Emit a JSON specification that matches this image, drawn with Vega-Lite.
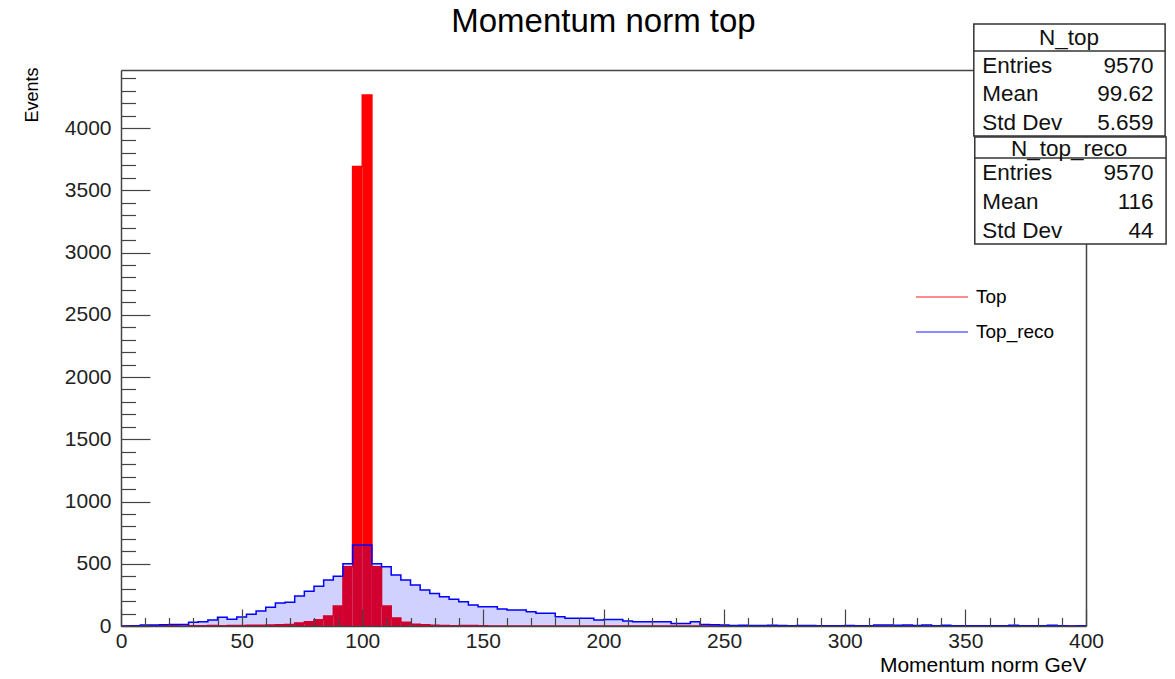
{
  "$schema": "https://vega.github.io/schema/vega-lite/v6.json",
  "width": 965,
  "height": 556,
  "autosize": {"type": "none"},
  "padding": {"left": 121, "top": 70, "right": 89, "bottom": 53},
  "background": "white",
  "title": {"text": "Momentum norm top", "fontSize": 33, "font": "Liberation Sans", "fontWeight": "normal", "color": "#000000", "anchor": "middle", "frame": "group", "baseline": "alphabetic", "offset": -42},
  "config": {
    "view": {"stroke": null},
    "font": "Liberation Sans",
    "axis": {"grid": false},
    "legend": {"orient": "none", "legendX": 807, "legendY": 213, "title": null, "symbolType": "M-2,0H2", "symbolSize": 676, "symbolStrokeWidth": 1.5, "symbolOpacity": 0.6, "labelFontSize": 19, "labelColor": "#000000", "labelFont": "Liberation Sans", "labelOffset": 20, "rowPadding": 11, "padding": 0}
  },
  "datasets": {
    "hist": [
      {"lo": 0, "hi": 4, "top": 0, "reco": 0},
      {"lo": 4, "hi": 8, "top": 0, "reco": 2},
      {"lo": 8, "hi": 12, "top": 0, "reco": 8},
      {"lo": 12, "hi": 16, "top": 3, "reco": 8},
      {"lo": 16, "hi": 20, "top": 2, "reco": 10},
      {"lo": 20, "hi": 24, "top": 2, "reco": 12},
      {"lo": 24, "hi": 28, "top": 0, "reco": 12},
      {"lo": 28, "hi": 32, "top": 3, "reco": 30},
      {"lo": 32, "hi": 36, "top": 2, "reco": 35},
      {"lo": 36, "hi": 40, "top": 4, "reco": 48},
      {"lo": 40, "hi": 44, "top": 3, "reco": 70},
      {"lo": 44, "hi": 48, "top": 5, "reco": 55},
      {"lo": 48, "hi": 52, "top": 4, "reco": 72},
      {"lo": 52, "hi": 56, "top": 6, "reco": 95},
      {"lo": 56, "hi": 60, "top": 6, "reco": 120},
      {"lo": 60, "hi": 64, "top": 8, "reco": 150},
      {"lo": 64, "hi": 68, "top": 10, "reco": 185},
      {"lo": 68, "hi": 72, "top": 12, "reco": 190},
      {"lo": 72, "hi": 76, "top": 25, "reco": 240},
      {"lo": 76, "hi": 80, "top": 35, "reco": 280},
      {"lo": 80, "hi": 84, "top": 50, "reco": 320},
      {"lo": 84, "hi": 88, "top": 80, "reco": 370},
      {"lo": 88, "hi": 92, "top": 160, "reco": 400},
      {"lo": 92, "hi": 96, "top": 475, "reco": 500},
      {"lo": 96, "hi": 100, "top": 3690, "reco": 650},
      {"lo": 100, "hi": 104, "top": 4265, "reco": 650},
      {"lo": 104, "hi": 108, "top": 475, "reco": 500},
      {"lo": 108, "hi": 112, "top": 160, "reco": 476},
      {"lo": 112, "hi": 116, "top": 65, "reco": 410},
      {"lo": 116, "hi": 120, "top": 30, "reco": 370},
      {"lo": 120, "hi": 124, "top": 15, "reco": 330},
      {"lo": 124, "hi": 128, "top": 10, "reco": 290},
      {"lo": 128, "hi": 132, "top": 6, "reco": 262},
      {"lo": 132, "hi": 136, "top": 4, "reco": 235},
      {"lo": 136, "hi": 140, "top": 3, "reco": 214},
      {"lo": 140, "hi": 144, "top": 5, "reco": 195},
      {"lo": 144, "hi": 148, "top": 4, "reco": 169},
      {"lo": 148, "hi": 152, "top": 2, "reco": 155},
      {"lo": 152, "hi": 156, "top": 0, "reco": 155},
      {"lo": 156, "hi": 160, "top": 0, "reco": 137},
      {"lo": 160, "hi": 164, "top": 0, "reco": 128},
      {"lo": 164, "hi": 168, "top": 0, "reco": 128},
      {"lo": 168, "hi": 172, "top": 0, "reco": 115},
      {"lo": 172, "hi": 176, "top": 0, "reco": 102},
      {"lo": 176, "hi": 180, "top": 0, "reco": 102},
      {"lo": 180, "hi": 184, "top": 0, "reco": 75},
      {"lo": 184, "hi": 188, "top": 0, "reco": 62},
      {"lo": 188, "hi": 192, "top": 0, "reco": 62},
      {"lo": 192, "hi": 196, "top": 0, "reco": 62},
      {"lo": 196, "hi": 200, "top": 0, "reco": 48},
      {"lo": 200, "hi": 204, "top": 0, "reco": 53},
      {"lo": 204, "hi": 208, "top": 0, "reco": 53},
      {"lo": 208, "hi": 212, "top": 0, "reco": 40},
      {"lo": 212, "hi": 216, "top": 0, "reco": 35},
      {"lo": 216, "hi": 220, "top": 0, "reco": 35},
      {"lo": 220, "hi": 224, "top": 0, "reco": 35},
      {"lo": 224, "hi": 228, "top": 0, "reco": 35},
      {"lo": 228, "hi": 232, "top": 0, "reco": 21},
      {"lo": 232, "hi": 236, "top": 0, "reco": 21},
      {"lo": 236, "hi": 240, "top": 0, "reco": 35},
      {"lo": 240, "hi": 244, "top": 0, "reco": 12},
      {"lo": 244, "hi": 248, "top": 0, "reco": 10},
      {"lo": 248, "hi": 252, "top": 0, "reco": 8},
      {"lo": 252, "hi": 256, "top": 0, "reco": 5},
      {"lo": 256, "hi": 260, "top": 0, "reco": 6},
      {"lo": 260, "hi": 264, "top": 0, "reco": 5},
      {"lo": 264, "hi": 268, "top": 0, "reco": 4},
      {"lo": 268, "hi": 272, "top": 0, "reco": 6},
      {"lo": 272, "hi": 276, "top": 0, "reco": 4},
      {"lo": 276, "hi": 280, "top": 0, "reco": 3},
      {"lo": 280, "hi": 284, "top": 0, "reco": 5},
      {"lo": 284, "hi": 288, "top": 0, "reco": 4},
      {"lo": 288, "hi": 292, "top": 0, "reco": 3},
      {"lo": 292, "hi": 296, "top": 0, "reco": 3},
      {"lo": 296, "hi": 300, "top": 0, "reco": 2},
      {"lo": 300, "hi": 304, "top": 0, "reco": 4},
      {"lo": 304, "hi": 308, "top": 0, "reco": 3},
      {"lo": 308, "hi": 312, "top": 0, "reco": 2},
      {"lo": 312, "hi": 316, "top": 0, "reco": 8},
      {"lo": 316, "hi": 320, "top": 0, "reco": 8},
      {"lo": 320, "hi": 324, "top": 0, "reco": 7},
      {"lo": 324, "hi": 328, "top": 0, "reco": 8},
      {"lo": 328, "hi": 332, "top": 0, "reco": 5},
      {"lo": 332, "hi": 336, "top": 0, "reco": 8},
      {"lo": 336, "hi": 340, "top": 0, "reco": 3},
      {"lo": 340, "hi": 344, "top": 0, "reco": 7},
      {"lo": 344, "hi": 348, "top": 0, "reco": 3},
      {"lo": 348, "hi": 352, "top": 0, "reco": 2},
      {"lo": 352, "hi": 356, "top": 0, "reco": 3},
      {"lo": 356, "hi": 360, "top": 0, "reco": 2},
      {"lo": 360, "hi": 364, "top": 0, "reco": 2},
      {"lo": 364, "hi": 368, "top": 0, "reco": 3},
      {"lo": 368, "hi": 372, "top": 0, "reco": 7},
      {"lo": 372, "hi": 376, "top": 0, "reco": 2},
      {"lo": 376, "hi": 380, "top": 0, "reco": 2},
      {"lo": 380, "hi": 384, "top": 0, "reco": 2},
      {"lo": 384, "hi": 388, "top": 0, "reco": 6},
      {"lo": 388, "hi": 392, "top": 0, "reco": 2},
      {"lo": 392, "hi": 396, "top": 0, "reco": 1},
      {"lo": 396, "hi": 400, "top": 0, "reco": 2}
    ],
    "boxes": [
      {"name": "N_top", "x1": 353.5, "x2": 432.8, "top": 4835, "bottom": 3936, "sep": 4618, "hy": 4663},
      {"name": "N_top_reco", "x1": 353.9, "x2": 433.2, "top": 3928, "bottom": 3068, "sep": 3759, "hy": 3779}
    ],
    "stats": [
      {"box": "N_top", "label": "Entries", "value": "9570", "y": 4442},
      {"box": "N_top", "label": "Mean", "value": "99.62", "y": 4213},
      {"box": "N_top", "label": "Std Dev", "value": "5.659", "y": 3984},
      {"box": "N_top_reco", "label": "Entries", "value": "9570", "y": 3582},
      {"box": "N_top_reco", "label": "Mean", "value": "116", "y": 3349},
      {"box": "N_top_reco", "label": "Std Dev", "value": "44", "y": 3116}
    ]
  },
  "resolve": {"axis": {"x": "independent", "y": "independent"}},
  "layer": [
    {
      "data": {"name": "hist"},
      "transform": [{"fold": ["lo", "hi"], "as": ["edge", "gev"]}],
      "mark": {"type": "line", "strokeWidth": 1.5, "interpolate": "linear"},
      "encoding": {
        "x": {"field": "gev", "type": "quantitative", "scale": {"domain": [0, 400], "nice": false, "zero": false}, "axis": null},
        "y": {"field": "top", "type": "quantitative", "scale": {"domain": [0, 4466], "nice": false}, "axis": null},
        "color": {"datum": "Top", "type": "nominal", "scale": {"domain": ["Top", "Top_reco"], "range": ["#ff0000", "#0000ff"]}},
        "order": {"value": null}
      }
    },
    {
      "data": {"name": "hist"},
      "mark": {"type": "rect", "color": "#ff0000"},
      "encoding": {
        "x": {"field": "lo", "type": "quantitative", "scale": {"domain": [0, 400], "nice": false, "zero": false},
          "axis": {"orient": "bottom", "values": [0, 50, 100, 150, 200, 250, 300, 350, 400], "format": "d", "tickSize": -17, "tickColor": "#444444", "tickWidth": 1.2, "domain": true, "domainColor": "#444444", "domainWidth": 1.5, "labelFontSize": 21, "labelColor": "#222222", "labelPadding": 21, "labelBaseline": "top", "labelFlush": false, "labelOverlap": false, "title": "Momentum norm GeV", "titleFontSize": 21, "titleFontWeight": "normal", "titleColor": "#000000", "titleAnchor": "end", "titleAlign": "right", "titleBaseline": "alphabetic", "titleX": 965, "titleY": 45, "zindex": 1}},
        "x2": {"field": "hi"},
        "y": {"field": "top", "type": "quantitative", "scale": {"domain": [0, 4466], "nice": false},
          "axis": {"orient": "left", "values": [0, 500, 1000, 1500, 2000, 2500, 3000, 3500, 4000], "format": "d", "tickSize": -29, "tickColor": "#444444", "tickWidth": 1.2, "domain": true, "domainColor": "#444444", "domainWidth": 1.5, "labelFontSize": 21, "labelColor": "#222222", "labelPadding": 39, "labelAlign": "right", "labelBaseline": "middle", "labelFlush": false, "labelOverlap": false, "title": "Events", "titleFontSize": 18, "titleFontWeight": "normal", "titleColor": "#000000", "titleAngle": -90, "titleAlign": "right", "titleBaseline": "bottom", "titleX": -80, "titleY": -3, "zindex": 1}},
        "y2": {"datum": 0}
      }
    },
    {
      "data": {"name": "hist"},
      "transform": [{"fold": ["lo", "hi"], "as": ["edge", "gev"]}],
      "mark": {"type": "area", "color": "#0000ff", "opacity": 0.18, "interpolate": "linear"},
      "encoding": {
        "x": {"field": "gev", "type": "quantitative", "scale": {"domain": [0, 400], "nice": false, "zero": false},
          "axis": {"orient": "bottom", "values": [10, 20, 30, 40, 60, 70, 80, 90, 110, 120, 130, 140, 160, 170, 180, 190, 210, 220, 230, 240, 260, 270, 280, 290, 310, 320, 330, 340, 360, 370, 380, 390], "tickSize": -8.5, "tickColor": "#444444", "tickWidth": 1.2, "labels": false, "domain": false, "title": null, "zindex": 1}},
        "y": {"field": "reco", "type": "quantitative", "stack": null, "scale": {"domain": [0, 4466], "nice": false},
          "axis": {"orient": "left", "values": [100, 200, 300, 400, 600, 700, 800, 900, 1100, 1200, 1300, 1400, 1600, 1700, 1800, 1900, 2100, 2200, 2300, 2400, 2600, 2700, 2800, 2900, 3100, 3200, 3300, 3400, 3600, 3700, 3800, 3900, 4100, 4200, 4300, 4400], "tickSize": -14.5, "tickColor": "#444444", "tickWidth": 1.2, "labels": false, "domain": false, "title": null, "zindex": 1}},
        "order": {"value": null}
      }
    },
    {
      "data": {"name": "hist"},
      "transform": [{"fold": ["lo", "hi"], "as": ["edge", "gev"]}],
      "mark": {"type": "line", "strokeWidth": 1.5, "interpolate": "linear"},
      "encoding": {
        "x": {"field": "gev", "type": "quantitative", "scale": {"domain": [0, 400], "nice": false, "zero": false},
          "axis": {"orient": "top", "ticks": false, "labels": false, "title": null, "domain": true, "domainColor": "#444444", "domainWidth": 1.5, "zindex": 0}},
        "y": {"field": "reco", "type": "quantitative", "scale": {"domain": [0, 4466], "nice": false},
          "axis": {"orient": "right", "ticks": false, "labels": false, "title": null, "domain": true, "domainColor": "#444444", "domainWidth": 1.5, "zindex": 0}},
        "color": {"datum": "Top_reco", "type": "nominal", "scale": {"domain": ["Top", "Top_reco"], "range": ["#ff0000", "#0000ff"]}},
        "order": {"value": null}
      }
    },
    {
      "data": {"name": "boxes"},
      "mark": {"type": "rect", "fill": "#ffffff", "stroke": "#333333", "strokeWidth": 1.5},
      "encoding": {
        "x": {"field": "x1", "type": "quantitative", "axis": null},
        "x2": {"field": "x2"},
        "y": {"field": "top", "type": "quantitative", "axis": null},
        "y2": {"field": "bottom"}
      }
    },
    {
      "data": {"name": "boxes"},
      "mark": {"type": "rule", "stroke": "#333333", "strokeWidth": 1.5},
      "encoding": {
        "x": {"field": "x1", "type": "quantitative", "axis": null},
        "x2": {"field": "x2"},
        "y": {"field": "sep", "type": "quantitative", "axis": null}
      }
    },
    {
      "data": {"name": "boxes"},
      "mark": {"type": "text", "fontSize": 22.5, "font": "Liberation Sans", "color": "#111111", "align": "center", "baseline": "alphabetic"},
      "encoding": {
        "x": {"datum": 393, "type": "quantitative", "axis": null},
        "y": {"field": "hy", "type": "quantitative", "axis": null},
        "text": {"field": "name"}
      }
    },
    {
      "data": {"name": "stats"},
      "mark": {"type": "text", "fontSize": 22.5, "font": "Liberation Sans", "color": "#111111", "align": "left", "baseline": "alphabetic"},
      "encoding": {
        "x": {"datum": 357, "type": "quantitative", "axis": null},
        "y": {"field": "y", "type": "quantitative", "axis": null},
        "text": {"field": "label"}
      }
    },
    {
      "data": {"name": "stats"},
      "mark": {"type": "text", "fontSize": 22.5, "font": "Liberation Sans", "color": "#111111", "align": "right", "baseline": "alphabetic"},
      "encoding": {
        "x": {"datum": 428, "type": "quantitative", "axis": null},
        "y": {"field": "y", "type": "quantitative", "axis": null},
        "text": {"field": "value"}
      }
    }
  ]
}
